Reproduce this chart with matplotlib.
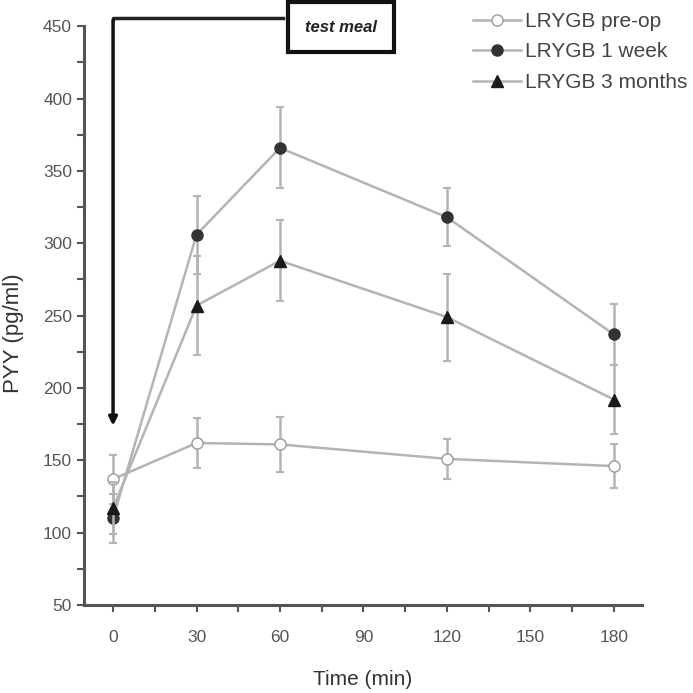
import matplotlib.pyplot as plt
from matplotlib.ticker import MultipleLocator
from matplotlib.patches import Rectangle

plt.rcParams['font.family'] = ['Liberation Sans', 'DejaVu Sans']

# time points (min)
time = [0, 30, 60, 120, 180]

# PYY (pg/ml)
preop = [137, 162, 161, 151, 146]
preop_err = [17, 17, 19, 14, 15]
week1 = [110, 306, 366, 318, 237]
week1_err = [17, 27, 28, 20, 21]
month3 = [117, 257, 288, 249, 192]
month3_err = [18, 34, 28, 30, 24]

labels = ['LRYGB pre-op', 'LRYGB 1 week', 'LRYGB 3 months']

line_c = '#b4b4b4'
dark = '#333333'
txt_c = '#555555'

fig = plt.figure(figsize=(6.93, 6.93), dpi=100)
ax = fig.add_axes([0.121, 0.127, 0.805, 0.835])

kw = dict(color=line_c, lw=1.8, ecolor=line_c, elinewidth=1.8, capsize=3, capthick=1.5, ms=8)
e1 = ax.errorbar(time, preop, yerr=preop_err, marker='o', mfc='white', mec='#999999',
                 zorder=3, **kw)
e2 = ax.errorbar(time, week1, yerr=week1_err, marker='o', mfc=dark, mec=dark,
                 zorder=4, **kw)
e3 = ax.errorbar(time, month3, yerr=month3_err, marker='^', mfc='#1a1a1a', mec='#1a1a1a',
                 zorder=5, **kw)

ax.set_xlim(-10.5, 190)
ax.set_ylim(50, 450)
ax.xaxis.set_major_locator(MultipleLocator(30))
ax.xaxis.set_minor_locator(MultipleLocator(15))
ax.yaxis.set_major_locator(MultipleLocator(50))
ax.yaxis.set_minor_locator(MultipleLocator(25))

for s in ['top', 'right']:
    ax.spines[s].set_visible(False)
for s in ['left', 'bottom']:
    ax.spines[s].set_color('#555555')
    ax.spines[s].set_linewidth(2.2)
ax.tick_params(which='major', length=5, width=1.5, color='#555555', labelcolor=txt_c,
               labelsize=12.5)
ax.tick_params(which='minor', length=5, width=1.5, color='#555555')
ax.tick_params(axis='x', pad=13)

ax.set_xlabel('Time (min)', fontsize=15, color='#333333', labelpad=18)
ax.set_ylabel('PYY (pg/ml)', fontsize=16, color='#333333')
ax.yaxis.set_label_coords(-0.108, 0.47)

# test meal marker
ax.plot([0, 0, 61], [455, 456, 456], color='#222222', lw=2.5, clip_on=False)
ax.annotate('', xy=(0, 172), xytext=(0, 456),
            arrowprops=dict(arrowstyle='-|>', color='#111111', lw=2.5, mutation_scale=12),
            annotation_clip=False)
fig.patches.append(Rectangle((0.416, 0.925), 0.152, 0.072, transform=fig.transFigure,
                             fc='white', ec='#111111', lw=3))
fig.text(0.492, 0.961, 'test meal', ha='center', va='center', fontsize=12,
         fontweight='bold', fontstyle='italic', color='#222222')

# legend shows only line + marker, no error bars
leg = ax.legend([e1[0], e2[0], e3[0]], labels, loc='upper left',
                bbox_to_anchor=(473 / 693, 1 - 12 / 693),
                bbox_transform=fig.transFigure, frameon=False, borderpad=0, borderaxespad=0,
                fontsize=15, handlelength=2.3, labelspacing=0.55, handletextpad=0.2)
for t in leg.get_texts():
    t.set_color('#444444')

plt.savefig('out.png', dpi=100)
